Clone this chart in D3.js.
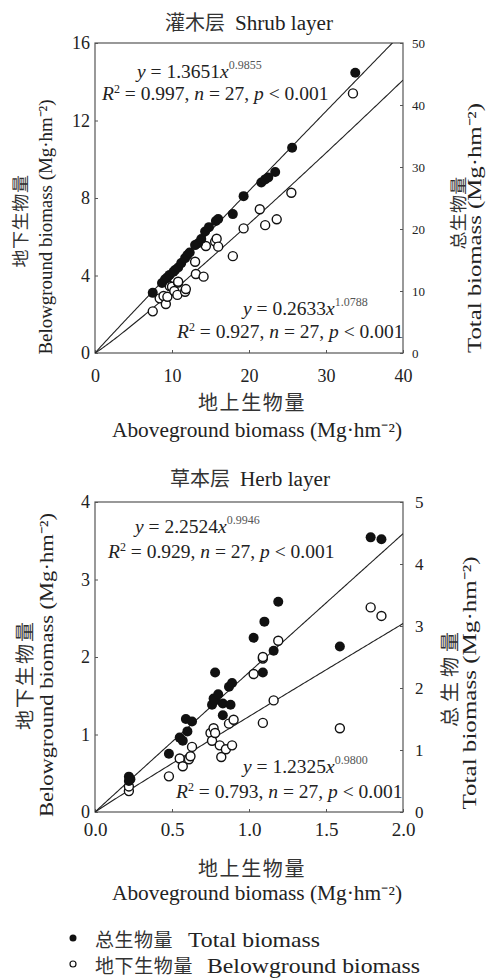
<!DOCTYPE html>
<html>
<head>
<meta charset="utf-8">
<script src="https://cdn.jsdelivr.net/npm/d3@7"></script>
<style>
  body { margin: 0; background: #fff; }
  text { font-family: "Liberation Serif", "Noto Sans CJK SC", serif; fill: #222; }
  .cjk { font-family: "Noto Sans CJK SC", sans-serif; fill: #333; }
</style>
</head>
<body>
<div id="chart"></div>
<script>
// shrub layer, total biomass (filled dots, right axis)
var shrubTotalX = [7.5, 8.7, 9.1, 9.4, 9.7, 10.2, 10.4, 10.8, 11.2, 11.7, 12.0, 12.3, 13.0, 13.4, 13.8, 14.3, 14.8, 15.7, 16.0, 17.9, 19.3, 21.6, 22.1, 22.5, 23.4, 25.6, 33.8];
var shrubTotal = [9.7, 11.3, 11.9, 12.2, 12.6, 13.1, 13.4, 13.8, 14.5, 15.3, 15.8, 16.2, 17.4, 17.7, 18.4, 19.6, 20.3, 21.3, 21.6, 22.4, 25.3, 27.5, 28.0, 28.3, 29.2, 33.1, 45.2];
// shrub layer, belowground biomass (open dots, left axis)
var shrubBelowX = [7.5, 8.4, 8.9, 9.2, 9.4, 9.7, 10.0, 10.3, 10.7, 10.8, 10.8, 11.7, 11.8, 13.0, 13.1, 14.1, 14.4, 15.6, 15.8, 16.0, 17.9, 19.3, 21.4, 22.1, 23.6, 25.5, 33.5];
var shrubBelow = [2.15, 2.82, 2.94, 2.53, 2.9, 3.46, 3.42, 3.2, 3.0, 3.63, 3.68, 3.16, 3.3, 4.71, 4.08, 3.94, 5.52, 5.75, 5.9, 5.49, 5.0, 6.43, 7.42, 6.6, 6.9, 8.27, 13.4];

// herb layer
var herbTotalX = [0.22, 0.22, 0.23, 0.48, 0.55, 0.57, 0.60, 0.59, 0.63, 0.76, 0.77, 0.78, 0.83, 0.83, 0.88, 0.87, 0.89, 0.78, 1.09, 1.03, 1.10, 1.16, 1.19, 1.59, 1.79, 1.86, 0.80];
var herbTotal = [0.57, 0.50, 0.53, 0.94, 1.20, 1.15, 1.30, 1.50, 1.46, 1.73, 1.83, 1.80, 1.56, 1.75, 1.73, 2.02, 2.08, 2.25, 2.25, 2.81, 3.07, 2.60, 3.39, 2.67, 4.43, 4.40, 1.90];
var herbBelowX = [0.22, 0.22, 0.48, 0.55, 0.57, 0.61, 0.63, 0.75, 0.76, 0.77, 0.81, 0.82, 0.85, 0.87, 0.89, 0.90, 1.03, 1.09, 1.09, 1.09, 1.16, 1.19, 1.59, 1.79, 1.86, 0.78, 0.62];
var herbBelow = [0.27, 0.33, 0.46, 0.69, 0.59, 0.68, 0.84, 1.02, 0.92, 1.08, 0.86, 0.71, 0.81, 1.14, 0.86, 1.19, 1.78, 1.98, 2.00, 1.15, 1.44, 2.21, 1.08, 2.64, 2.53, 1.02, 0.72];

// fitted power curves y = a * x^b  [a, b]
var shrubTotalFit = [1.3651, 0.9855];
var shrubBelowFit = [0.2633, 1.0788];
var herbTotalFit = [2.2524, 0.9946];
var herbBelowFit = [1.2325, 0.9800];

// tick labels
var shrubXTicks = [0, 10, 20, 30, 40];
var shrubLeftTicks = [0, 4, 8, 12, 16];
var shrubRightTicks = [0, 10, 20, 30, 40, 50];
var herbXTicks = [0, 0.5, 1.0, 1.5, 2.0];
var herbLeftTicks = [0, 1, 2, 3, 4];
var herbRightTicks = [0, 1, 2, 3, 4, 5];

var width = 486, height = 979;

var svg = d3.select("#chart")
  .append("svg")
  .attr("width", width)
  .attr("height", height);

function zip(xs, ys) {
  return xs.map(function(x, i) { return [x, ys[i]]; });
}

// plain label, optionally rotated, stretched to a given length
function label(parent, str, x, y, size, len, opts) {
  opts = opts || {};
  var t = parent.append("text")
    .attr("text-anchor", opts.anchor || "middle")
    .style("font-size", size + "px")
    .text(str);
  if (opts.rotate) t.attr("transform", "translate(" + x + "," + y + ") rotate(" + (opts.cjk ? -89.9 : -90) + ")");
  else t.attr("x", x).attr("y", y);
  if (opts.cjk) {
    // chinese: widen with letter spacing instead of stretching glyphs
    t.attr("class", "cjk");
    if (len) t.style("letter-spacing", Math.max(0, (len - str.length * size) / str.length) + "px");
  } else if (len) {
    t.attr("textLength", len).attr("lengthAdjust", "spacingAndGlyphs");
  }
  return t;
}

function drawPanel(p) {
  var g = svg.append("g");

  var x = d3.scaleLinear().domain(p.xDomain).range([95, 403]);
  var yL = d3.scaleLinear().domain(p.leftDomain).range([p.bottom, p.top]);
  var yR = d3.scaleLinear().domain(p.rightDomain).range([p.bottom, p.top]);

  // axes, ticks pointing inward
  var ax = g.append("g")
    .attr("transform", "translate(0," + p.bottom + ")")
    .call(d3.axisBottom(x).tickValues(p.xTicks).tickSize(-3).tickPadding(p.xPad).tickFormat(p.xFormat));
  var al = g.append("g")
    .attr("transform", "translate(95,0)")
    .call(d3.axisLeft(yL).tickValues(p.leftTicks).tickSize(-3).tickPadding(5).tickFormat(d3.format("d")));
  var ar = g.append("g")
    .attr("transform", "translate(403,0)")
    .call(d3.axisRight(yR).tickValues(p.rightTicks).tickSize(-3).tickPadding(p.rPad).tickFormat(d3.format("d")));
  [ax, al, ar].forEach(function(a) {
    a.select(".domain").remove();
    a.selectAll(".tick line").attr("stroke", "#555");
    a.selectAll(".tick text").style("font-family", "Liberation Serif").attr("fill", "#222");
  });
  ax.selectAll(".tick text").style("font-size", p.xTickSize + "px");
  al.selectAll(".tick text").style("font-size", "18px");
  ar.selectAll(".tick text").style("font-size", p.rTickSize + "px").attr("fill", "#444");

  // frame
  g.append("rect")
    .attr("x", 95)
    .attr("y", p.top)
    .attr("width", 308)
    .attr("height", p.bottom - p.top)
    .attr("fill", "none")
    .attr("stroke", "#555")
    .attr("stroke-width", 1.2);

  // fitted lines (left axis for belowground, right axis for total)
  var xs = d3.range(0, p.xDomain[1] * 1.0001, p.xDomain[1] / 200);
  var clipId = "clip" + p.top;
  svg.append("clipPath").attr("id", clipId)
    .append("rect").attr("x", 95).attr("y", p.top).attr("width", 308).attr("height", p.bottom - p.top);

  var lineR = d3.line()
    .x(function(d) { return x(d); })
    .y(function(d) { return yR(p.totalFit[0] * Math.pow(d, p.totalFit[1])); });
  var lineL = d3.line()
    .x(function(d) { return x(d); })
    .y(function(d) { return yL(p.belowFit[0] * Math.pow(d, p.belowFit[1])); });
  g.append("path").attr("d", lineR(xs)).attr("fill", "none").attr("stroke", "#222").attr("stroke-width", 1.1).attr("clip-path", "url(#" + clipId + ")");
  g.append("path").attr("d", lineL(xs)).attr("fill", "none").attr("stroke", "#222").attr("stroke-width", 1.1).attr("clip-path", "url(#" + clipId + ")");

  // open dots
  g.selectAll(".below")
    .data(p.below)
    .enter()
    .append("circle")
    .attr("cx", function(d) { return x(d[0]); })
    .attr("cy", function(d) { return yL(d[1]); })
    .attr("r", 4.5)
    .attr("fill", "#fff")
    .attr("stroke", "#111")
    .attr("stroke-width", 1.4);

  // filled dots
  g.selectAll(".total")
    .data(p.total)
    .enter()
    .append("circle")
    .attr("cx", function(d) { return x(d[0]); })
    .attr("cy", function(d) { return yR(d[1]); })
    .attr("r", 5)
    .attr("fill", "#111");

  // title
  label(g, p.titleCn, p.titleX, p.titleY, 20, null, { anchor: "start", cjk: true });
  label(g, p.titleEn, p.titleX + 70, p.titleY, 20, p.titleEnLen, { anchor: "start" });

  // equations
  function equation(tx, ty, fit) {
    var t = g.append("text").attr("x", tx).attr("y", ty).style("font-size", "19.5px");
    t.append("tspan").style("font-style", "italic").text("y");
    t.append("tspan").text(" = " + fit[0].toFixed(4));
    t.append("tspan").style("font-style", "italic").text("x");
    t.append("tspan").attr("dy", -9).style("font-size", "12px").attr("fill", "#555").text(fit[1].toFixed(4));
  }
  function stats(tx, ty, r2) {
    var t = g.append("text").attr("x", tx).attr("y", ty).style("font-size", "19.5px");
    t.append("tspan").style("font-style", "italic").text("R");
    t.append("tspan").attr("dy", -7).style("font-size", "12px").text("2");
    t.append("tspan").attr("dy", 7).text(" = " + r2 + ", ");
    t.append("tspan").style("font-style", "italic").text("n");
    t.append("tspan").text(" = 27, ");
    t.append("tspan").style("font-style", "italic").text("p");
    t.append("tspan").text(" < 0.001");
  }
  equation(p.eq1[0], p.eq1[1], p.totalFit);
  stats(p.st1[0], p.st1[1], p.totalR2);
  equation(p.eq2[0], p.eq2[1], p.belowFit);
  stats(p.st2[0], p.st2[1], p.belowR2);

  // x axis titles
  label(g, "地上生物量", 252, p.xCnY, 20, 108, { cjk: true });
  label(g, "Aboveground biomass (Mg·hm⁻²)", 257, p.xEnY, 20, 290);

  // left and right axis titles
  var a = p.axisLabels;
  label(g, "地下生物量", a.lcn[0], a.lcn[1], a.lcn[3], a.lcn[2], { rotate: true, cjk: true });
  label(g, "Belowground biomass (Mg·hm⁻²)", a.len[0], a.len[1], 19, a.len[2], { rotate: true });
  label(g, "总生物量", a.rcn[0], a.rcn[1], a.rcn[3], a.rcn[2], { rotate: true, cjk: true });
  label(g, "Total biomass (Mg·hm⁻²)", a.ren[0], a.ren[1], 19, a.ren[2], { rotate: true });
}

drawPanel({
  titleCn: "灌木层", titleEn: "Shrub layer", titleX: 165, titleY: 30, titleEnLen: 98,
  top: 43, bottom: 353,
  xDomain: [0, 40], leftDomain: [0, 16], rightDomain: [0, 50],
  xTicks: shrubXTicks, leftTicks: shrubLeftTicks, rightTicks: shrubRightTicks,
  xFormat: d3.format("d"), xPad: 16, xTickSize: 18, rPad: 9, rTickSize: 13,
  total: zip(shrubTotalX, shrubTotal), below: zip(shrubBelowX, shrubBelow),
  totalFit: shrubTotalFit, belowFit: shrubBelowFit,
  totalR2: "0.997", belowR2: "0.927",
  eq1: [137, 78], st1: [102, 100], eq2: [243, 315], st2: [177, 338],
  xCnY: 410, xEnY: 437,
  axisLabels: {
    lcn: [27, 221, 93, 18], len: [52, 227, 255],
    rcn: [465, 213, 73, 18], ren: [481, 228, 250]
  }
});

drawPanel({
  titleCn: "草本层", titleEn: "Herb layer", titleX: 170, titleY: 486, titleEnLen: 90,
  top: 502, bottom: 812,
  xDomain: [0, 2], leftDomain: [0, 4], rightDomain: [0, 5],
  xTicks: herbXTicks, leftTicks: herbLeftTicks, rightTicks: herbRightTicks,
  xFormat: d3.format(".1f"), xPad: 11, xTickSize: 19, rPad: 12, rTickSize: 17,
  total: zip(herbTotalX, herbTotal), below: zip(herbBelowX, herbBelow),
  totalFit: herbTotalFit, belowFit: herbBelowFit,
  totalR2: "0.929", belowR2: "0.793",
  eq1: [135, 533], st1: [108, 558], eq2: [243, 773], st2: [176, 798],
  xCnY: 876, xEnY: 900,
  axisLabels: {
    lcn: [32, 675, 110, 20], len: [53, 665, 304],
    rcn: [457, 677, 100, 20], ren: [476, 683, 253]
  }
});

// legend
var legend = svg.append("g");
legend.append("circle").attr("cx", 73).attr("cy", 938).attr("r", 3.5).attr("fill", "#111");
label(legend, "总生物量", 95, 947, 19, 78, { anchor: "start", cjk: true });
label(legend, "Total biomass", 188, 947, 21, 132, { anchor: "start" });
legend.append("circle").attr("cx", 73).attr("cy", 964).attr("r", 3).attr("fill", "#fff").attr("stroke", "#111").attr("stroke-width", 1.2);
label(legend, "地下生物量", 95, 973, 19, 98, { anchor: "start", cjk: true });
label(legend, "Belowground biomass", 207, 973, 21, 213, { anchor: "start" });
</script>
</body>
</html>
